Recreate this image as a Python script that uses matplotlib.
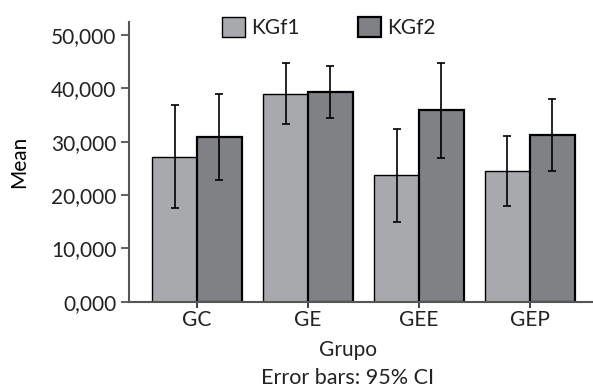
import matplotlib

matplotlib.use("Agg")

import matplotlib.pyplot as plt  # noqa: E402
import numpy as np  # noqa: E402

groups = ["GC", "GE", "GEE", "GEP"]
series = ["KGf1", "KGf2"]
kgf1_mean = [27100, 38950, 23700, 24550]
kgf1_lo = [17500, 33250, 14900, 18000]
kgf1_hi = [36900, 44800, 32300, 31150]
kgf2_mean = [30950, 39400, 35950, 31250]
kgf2_lo = [22800, 34500, 26950, 24450]
kgf2_hi = [39050, 44200, 44800, 38050]
y_ticks = [0, 10000, 20000, 30000, 40000, 50000]
y_tick_labels = ["0,000", "10,000", "20,000", "30,000", "40,000", "50,000"]

plt.rcParams["font.family"] = ["Lato", "DejaVu Sans"]
plt.rcParams["text.color"] = "#222222"

fig = plt.figure(figsize=(5.93, 3.87), dpi=100)
ax = fig.add_axes([0.2175, 0.2204, 0.7825, 0.7226])

x = np.arange(len(groups))
w = 0.405
colors = ["#a8a9ac", "#808185"]
edge_w = [1.0, 1.6]
for i, (mean, lo, hi) in enumerate([(kgf1_mean, kgf1_lo, kgf1_hi),
                                    (kgf2_mean, kgf2_lo, kgf2_hi)]):
    mean = np.array(mean)
    pos = x + (i - 0.5) * w
    err = [mean - np.array(lo), np.array(hi) - mean]
    ax.bar(pos, mean, width=w, color=colors[i], edgecolor="black",
           linewidth=edge_w[i], label=series[i], zorder=2)
    ax.errorbar(pos, mean, yerr=err, fmt="none", ecolor="black",
                elinewidth=1.2, capsize=2.8, capthick=1.2, zorder=3)

ax.set_xlim(-0.613, 3.568)
ax.set_ylim(0, 52450)
ax.set_yticks(y_ticks)
ax.set_yticklabels(y_tick_labels)
ax.set_xticks(x)
ax.set_xticklabels(groups)
ax.tick_params(axis="y", length=6, width=1.3, color="#555555", labelsize=15,
               pad=3, labelcolor="#222222")
ax.tick_params(axis="x", length=4, width=1.3, color="#333333", labelsize=15,
               pad=2, labelcolor="#222222")
for side in ["top", "right"]:
    ax.spines[side].set_visible(False)
for side in ["left", "bottom"]:
    ax.spines[side].set_color("#555555")
    ax.spines[side].set_linewidth(1.5)

ax.set_ylabel("Mean", fontsize=15, labelpad=16)
fig.text(348 / 593, 1 - 350 / 387, "Grupo", ha="center", va="center", fontsize=15)
fig.text(348 / 593, 1 - 378 / 387, "Error bars: 95% CI", ha="center", va="center",
         fontsize=15.5)

ax.legend(loc="upper center", bbox_to_anchor=(0.43, 1.085), ncol=2, frameon=False,
          fontsize=15, handlelength=1.1, handleheight=1.1, handletextpad=0.3,
          columnspacing=2.8)

fig.savefig("out.png", dpi=100)
